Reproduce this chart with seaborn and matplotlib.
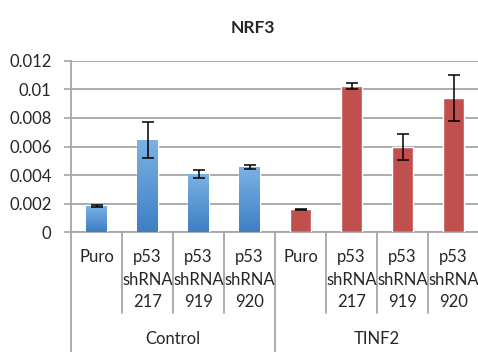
import numpy as np
import pandas as pd
import matplotlib
matplotlib.use("Agg")
import matplotlib.pyplot as plt
import seaborn as sns
from matplotlib.colors import LinearSegmentedColormap

groups = ["Control", "Control", "Control", "Control", "TINF2", "TINF2", "TINF2", "TINF2"]
conditions = ["Puro", "p53\nshRNA\n217", "p53\nshRNA\n919", "p53\nshRNA\n920",
              "Puro", "p53\nshRNA\n217", "p53\nshRNA\n919", "p53\nshRNA\n920"]
values = [0.00184, 0.00645, 0.00406, 0.00457, 0.00161, 0.01023, 0.00597, 0.00939]
errors = [0.00010, 0.00127, 0.00028, 0.00015, 0.00002, 0.00022, 0.00089, 0.00164]
yticks = [0, 0.002, 0.004, 0.006, 0.008, 0.01, 0.012]
ytick_labels = ["0", "0.002", "0.004", "0.006", "0.008", "0.01", "0.012"]
group_names = ["Control", "TINF2"]

sns.set_style("white")
plt.rcParams['font.family'] = ['Lato', 'DejaVu Sans']

df = pd.DataFrame({"key": [f"{g}|{c}" for g, c in zip(groups, conditions)],
                   "group": groups, "value": values})

fig = plt.figure(figsize=(4.78, 3.52), dpi=100)
ax = fig.add_axes([71/478, 1-232.3/352, 408/478, (232.3-60.7)/352])

red = "#c0504d"
blue = "#5b9bd5"
sns.barplot(data=df, x="key", y="value", hue="group", palette={"Control": blue, "TINF2": red},
            width=0.41, dodge=False, legend=False, saturation=1, ax=ax, zorder=3)

# gradient on blue bars
cmap = LinearSegmentedColormap.from_list("bl", ["#3d7fc3", "#7db2e5"])
grad = np.linspace(0, 1, 256).reshape(-1, 1)
for p, g in zip(sorted(ax.patches, key=lambda p: p.get_x()), groups):
    if g == "Control":
        x0, w, h = p.get_x(), p.get_width(), p.get_height()
        im = ax.imshow(grad, extent=[x0, x0 + w, 0, h], origin="lower", aspect="auto",
                       cmap=cmap, zorder=3.5)
        im.set_clip_path(p)

xs = np.arange(len(values))
ax.errorbar(xs, values, yerr=errors, fmt="none", ecolor="black", elinewidth=1.1,
            capsize=4.2, capthick=1.1, zorder=5)

ax.set_xlim(-0.5, len(values) - 0.5)
ax.set_ylim(0, 0.012)
ax.set_yticks(yticks)
ax.set_yticklabels(ytick_labels, fontsize=12)
ax.set_xticks([])
ax.set_xlabel("")
ax.set_ylabel("")
ax.yaxis.grid(True, color="#a6a6a6", linewidth=1.3, zorder=0)
ax.set_axisbelow(True)
ax.tick_params(axis="y", length=5, width=1.2, color="#a6a6a6", pad=9, left=True)
for s in ["top", "right"]:
    ax.spines[s].set_visible(False)
for s in ["left", "bottom"]:
    ax.spines[s].set_color("#a6a6a6")
    ax.spines[s].set_linewidth(1.3)

# multi-level category axis
tr = ax.get_xaxis_transform()
for i in range(len(values) + 1):
    xpos = i - 0.5
    if i % 4 == 0:
        ax.plot([xpos, xpos], [0, -0.70], transform=tr, color="#a6a6a6", lw=1.3, clip_on=False)
    else:
        ax.plot([xpos, xpos], [0, -0.47], transform=tr, color="#a6a6a6", lw=1.3, clip_on=False)

line_y = [-0.144, -0.278, -0.406]
for i, c in enumerate(conditions):
    for j, line in enumerate(c.split("\n")):
        ax.text(i, line_y[j], line, transform=tr, ha="center", va="center", fontsize=12)

for k, gname in enumerate(group_names):
    ax.text(k * 4 + 1.5, -0.622, gname, transform=tr, ha="center", va="center", fontsize=12)

fig.text(253/478, 1-28/352, "NRF3", ha="center", va="center", fontsize=12.5, fontweight="bold")

fig.savefig("out.png", dpi=100)
